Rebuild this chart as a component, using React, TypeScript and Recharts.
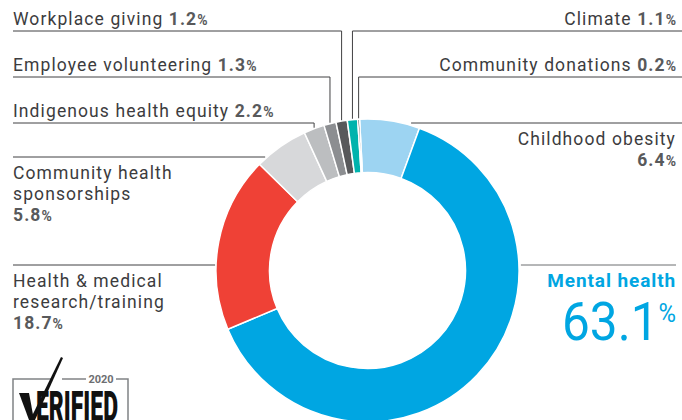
import React from 'react';
import { PieChart, Pie, Cell } from 'recharts';

const categories = [
  'Childhood obesity',
  'Mental health',
  'Health & medical research/training',
  'Community health sponsorships',
  'Indigenous health equity',
  'Employee volunteering',
  'Workplace giving',
  'Climate',
  'Community donations',
];
const shares = [6.4, 63.1, 18.7, 5.8, 2.2, 1.3, 1.2, 1.1, 0.2];
// label text split onto lines as in the original
const labelLines = [
  ['Childhood obesity'],
  ['Mental health'],
  ['Health & medical', 'research/training'],
  ['Community health', 'sponsorships'],
  ['Indigenous health equity'],
  ['Employee volunteering'],
  ['Workplace giving'],
  ['Climate'],
  ['Community donations'],
];

const COLORS = ['#9DD4F2', '#00A6E2', '#EF4136', '#D7D8DA', '#BCBEC0', '#8C8E91', '#58595B', '#00B3AD', '#231F20'];

const data = categories.map((name, i) => ({ name, value: shares[i] }));

const FONT = 'Roboto, sans-serif';
const TEXT = '#3C3C3E';
const VALUE = '#58595B';
const LINE = '#414042';
const FS = 17.5;
const LS = 1.1;

// where each callout sits: elbow = horizontal line then down to slice, flat = horizontal line to ring edge
const layout: any[] = [
  { side: 'right', type: 'flat', lineY: 123, textY: 145, gap: 9 },
  { side: 'right', type: 'big', lineY: 265, textY: 287 },
  { side: 'left', type: 'flat', lineY: 265, textY: 287, gap: 1 },
  { side: 'left', type: 'flat', lineY: 157, textY: 179, gap: 2 },
  { side: 'left', type: 'elbow', lineY: 123, textY: 117 },
  { side: 'left', type: 'elbow', lineY: 77, textY: 71 },
  { side: 'left', type: 'elbow', lineY: 31, textY: 25 },
  { side: 'right', type: 'elbow', lineY: 31, textY: 25 },
  { side: 'right', type: 'elbow', lineY: 77, textY: 71 },
];

const LEFT_X = 13;
const RIGHT_X = 676;
const W = 682;
const RAD = Math.PI / 180;

const renderLabel = (props: any) => {
  const { cx, cy, outerRadius, midAngle, index, value } = props;
  const cfg = layout[index];
  const lines = labelLines[index];
  const left = cfg.side === 'left';
  const anchor = left ? 'start' : 'end';
  const tx = left ? LEFT_X : RIGHT_X;
  const els: any[] = [];

  if (cfg.type === 'elbow') {
    const px = cx + outerRadius * Math.cos(-midAngle * RAD);
    const py = cy + outerRadius * Math.sin(-midAngle * RAD);
    const x0 = left ? LEFT_X : W;
    els.push(
      <polyline key="l" points={`${x0},${cfg.lineY} ${px},${cfg.lineY} ${px},${py - 1}`} fill="none" stroke={LINE} strokeWidth={1} />
    );
    els.push(
      <text key="t" x={tx} y={cfg.textY} textAnchor={anchor} fontFamily={FONT} fontSize={FS} letterSpacing={LS} fill={TEXT}>
        {lines[0] + ' '}
        <tspan fontWeight={700} fill={VALUE}>{value.toFixed(1)}</tspan>
        <tspan fontWeight={700} fill={VALUE} fontSize={14} letterSpacing={0}>%</tspan>
      </text>
    );
  } else if (cfg.type === 'flat') {
    const dx = Math.sqrt(Math.max(0, outerRadius * outerRadius - (cfg.lineY - cy) ** 2));
    const edge = left ? cx - dx - cfg.gap : cx + dx + cfg.gap;
    const x0 = left ? LEFT_X : W;
    els.push(<line key="l" x1={x0} y1={cfg.lineY} x2={edge} y2={cfg.lineY} stroke={LINE} strokeWidth={1} />);
    els.push(
      <text key="t" x={tx} textAnchor={anchor} fontFamily={FONT} fontSize={FS} letterSpacing={LS} fill={TEXT}>
        {lines.map((s: string, i: number) => (
          <tspan key={i} x={tx} y={cfg.textY + i * 21}>{s}</tspan>
        ))}
        <tspan x={tx} y={cfg.textY + lines.length * 21} fontWeight={700} fill={VALUE}>{value.toFixed(1)}</tspan>
        <tspan fontWeight={700} fill={VALUE} fontSize={14} letterSpacing={0}>%</tspan>
      </text>
    );
  } else {
    const dx = Math.sqrt(Math.max(0, outerRadius * outerRadius - (cfg.lineY - cy) ** 2));
    els.push(<line key="l" x1={cx + dx + 2} y1={cfg.lineY} x2={RIGHT_X} y2={cfg.lineY} stroke="#6D6E71" strokeWidth={1} />);
    els.push(
      <text key="t" x={RIGHT_X} y={cfg.textY} textAnchor="end" fontFamily={FONT} fontSize={19} letterSpacing={0.9} fontWeight={700} fill="#00A6E2">
        {lines[0]}
      </text>
    );
    els.push(
      <text key="n" x={RIGHT_X} y={340} textAnchor="end" fontFamily={FONT} fill="#00A6E2" textLength={114} lengthAdjust="spacingAndGlyphs">
        <tspan fontSize={54}>{value.toFixed(1)}</tspan>
        <tspan fontSize={26} dy={-18}>%</tspan>
      </text>
    );
  }
  return <g key={`lbl-${index}`}>{els}</g>;
};

const VerifiedBadge = () => (
  <svg width={W} height={420} style={{ position: 'absolute', left: 0, top: 0, pointerEvents: 'none' }}>
    <g fill="none" stroke="#808285" strokeWidth={1.5}>
      <polyline points="13,420 13,379 52,379" />
      <line x1={62} y1={379} x2={86} y2={379} />
      <polyline points="116,379 128,379 128,420" />
    </g>
    <text x={101} y={383} textAnchor="middle" fontFamily={FONT} fontSize={11} fontWeight={700} fill="#6D6E71">2020</text>
    <text x={36} y={421} fontFamily={FONT} fontSize={42} fontWeight={900} fill="#111" textLength={82} lengthAdjust="spacingAndGlyphs">ERIFIED</text>
    <path d="M19,393 L29,393 L34,420 L29,420 Z" fill="#111" />
    <path d="M61,357 L63,358 L35,420 L30,420 Z" fill="#111" />
  </svg>
);

export default function App() {
  return (
    <div style={{ position: 'absolute', left: 0, top: 0, width: W, height: 420, overflow: 'hidden', background: '#fff' }}>
      <PieChart width={W} height={420} margin={{ top: 0, right: 0, bottom: 0, left: 0 }}>
        <Pie
          data={data}
          dataKey="value"
          nameKey="name"
          cx={367.5}
          cy={270.5}
          innerRadius={98}
          outerRadius={151.5}
          startAngle={93}
          endAngle={-267}
          stroke="#fff"
          strokeWidth={1.5}
          isAnimationActive={false}
          labelLine={false}
          label={renderLabel}
        >
          {data.map((entry, index) => (
            <Cell key={`cell-${index}`} fill={COLORS[index % COLORS.length]} />
          ))}
        </Pie>
      </PieChart>
      <VerifiedBadge />
    </div>
  );
}
